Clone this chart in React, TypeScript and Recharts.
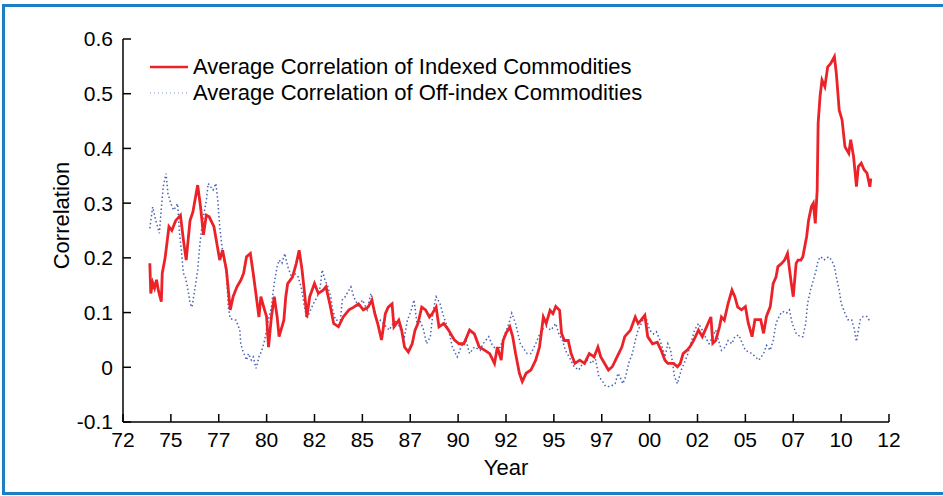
import React from "react"
import { LineChart, Line, XAxis, YAxis } from "recharts"

// Average correlation of indexed commodities (red)
const redYears = [
  1973.4, 1973.45, 1973.55, 1973.65, 1973.75, 1973.85, 1974.0, 1974.05, 1974.2, 1974.4,
  1974.55, 1974.75, 1975.0, 1975.15, 1975.3, 1975.5, 1975.65, 1975.9, 1976.05, 1976.2,
  1976.35, 1976.5, 1976.75, 1977.05, 1977.2, 1977.4, 1977.6, 1977.75, 1977.95, 1978.15,
  1978.3, 1978.45, 1978.65, 1978.8, 1979.1, 1979.2, 1979.35, 1979.5, 1979.6, 1979.75,
  1979.9, 1980.05, 1980.15, 1980.4, 1980.5, 1980.6, 1980.85, 1981.05, 1981.2, 1981.35,
  1981.5, 1981.6, 1981.75, 1982.0, 1982.2, 1982.45, 1982.6, 1982.8, 1983.0, 1983.25,
  1983.5, 1983.8, 1984.05, 1984.3, 1984.55, 1984.8, 1985.0, 1985.15, 1985.3, 1985.5,
  1985.7, 1985.85, 1986.05, 1986.15, 1986.4, 1986.55, 1986.7, 1986.9, 1987.1, 1987.25,
  1987.4, 1987.6, 1987.8, 1988.0, 1988.15, 1988.35, 1988.5, 1988.75, 1989.0, 1989.3,
  1989.55, 1989.8, 1990.1, 1990.35, 1990.6, 1990.9, 1991.15, 1991.4, 1991.55, 1991.75,
  1991.85, 1992.0, 1992.2, 1992.35, 1992.5, 1992.7, 1992.85, 1993.05, 1993.3, 1993.55,
  1993.75, 1993.95, 1994.1, 1994.3, 1994.45, 1994.6, 1994.8, 1994.9, 1995.05, 1995.25,
  1995.4, 1995.6, 1995.85, 1996.1, 1996.35, 1996.6, 1996.8, 1996.95, 1997.15, 1997.35,
  1997.55, 1997.8, 1998.05, 1998.2, 1998.5, 1998.75, 1998.9, 1999.05, 1999.25, 1999.4,
  1999.65, 1999.9, 2000.1, 2000.3, 2000.45, 2000.75, 2000.95, 2001.1, 2001.25, 2001.45,
  2001.6, 2001.8, 2002.05, 2002.25, 2002.4, 2002.55, 2002.7, 2002.8, 2002.95, 2003.15,
  2003.25, 2003.4, 2003.6, 2003.8, 2003.95, 2004.1, 2004.3, 2004.5, 2004.65, 2004.85,
  2005.0, 2005.3, 2005.45, 2005.6, 2005.8, 2005.95, 2006.1, 2006.2, 2006.4, 2006.55,
  2006.7, 2006.9, 2007.0, 2007.15, 2007.25, 2007.4, 2007.5, 2007.7, 2007.8, 2007.95,
  2008.05, 2008.15, 2008.25, 2008.3, 2008.4, 2008.5, 2008.65, 2008.8, 2008.95, 2009.15,
  2009.25, 2009.4, 2009.55, 2009.7, 2009.9, 2010.0, 2010.15, 2010.3, 2010.4, 2010.55,
  2010.7, 2010.85, 2011.0, 2011.05,
]
const redValues = [
  0.19, 0.135, 0.155, 0.145, 0.16, 0.14, 0.12, 0.172, 0.2, 0.257,
  0.25, 0.268, 0.278, 0.234, 0.196, 0.268, 0.284, 0.333, 0.293, 0.242,
  0.278, 0.275, 0.257, 0.196, 0.214, 0.178, 0.105, 0.129, 0.147, 0.159,
  0.172, 0.202, 0.208, 0.172, 0.092, 0.129, 0.11, 0.092, 0.037, 0.092,
  0.129, 0.092, 0.056, 0.086, 0.129, 0.153, 0.165, 0.19, 0.214, 0.178,
  0.129, 0.092, 0.129, 0.153, 0.135, 0.141, 0.147, 0.116, 0.08, 0.074,
  0.092, 0.105, 0.11, 0.116, 0.105, 0.11, 0.123, 0.098, 0.08, 0.05,
  0.098, 0.11, 0.116, 0.074, 0.086, 0.068, 0.037, 0.028, 0.043, 0.068,
  0.08, 0.11, 0.105, 0.092, 0.098, 0.11, 0.074, 0.08, 0.068, 0.05,
  0.043, 0.043, 0.068, 0.061, 0.037, 0.031, 0.025, 0.007, 0.037, 0.013,
  0.049, 0.062, 0.074, 0.056, 0.025, -0.011, -0.026, -0.011, -0.005, 0.013,
  0.037, 0.092, 0.08, 0.104, 0.098, 0.111, 0.104, 0.062, 0.049, 0.049,
  0.025, 0.007, 0.013, 0.007, 0.025, 0.019, 0.037, 0.019, 0.007, -0.005,
  0.001, 0.019, 0.037, 0.056, 0.068, 0.092, 0.08, 0.086, 0.095, 0.056,
  0.043, 0.046, 0.031, 0.013, 0.007, 0.007, 0.001, 0.007, 0.025, 0.031,
  0.037, 0.049, 0.068, 0.056, 0.068, 0.08, 0.092, 0.044, 0.049, 0.074,
  0.092, 0.086, 0.117, 0.141, 0.129, 0.11, 0.105, 0.111, 0.081, 0.056,
  0.087, 0.087, 0.062, 0.093, 0.111, 0.153, 0.165, 0.184, 0.19, 0.196,
  0.208, 0.153, 0.129, 0.19, 0.196, 0.196, 0.202, 0.239, 0.269, 0.294,
  0.3, 0.263, 0.324, 0.446, 0.495, 0.525, 0.513, 0.549, 0.555, 0.568,
  0.537, 0.47, 0.452, 0.403, 0.391, 0.416, 0.385, 0.33, 0.367, 0.373,
  0.361, 0.355, 0.33, 0.345,
]

// Average correlation of off-index commodities (blue, dotted)
const blueYears = [
  1973.4, 1973.55, 1973.7, 1973.9, 1974.0, 1974.1, 1974.25, 1974.35, 1974.5, 1974.65,
  1974.85, 1974.95, 1975.05, 1975.15, 1975.25, 1975.4, 1975.5, 1975.6, 1975.8, 1975.9,
  1976.0, 1976.1, 1976.2, 1976.35, 1976.45, 1976.7, 1976.85, 1976.95, 1977.0, 1977.05,
  1977.15, 1977.25, 1977.4, 1977.45, 1977.5, 1977.6, 1977.9, 1978.1, 1978.15, 1978.25,
  1978.45, 1978.55, 1978.7, 1978.8, 1978.95, 1979.1, 1979.25, 1979.4, 1979.55, 1979.75,
  1979.85, 1979.95, 1980.05, 1980.15, 1980.3, 1980.45, 1980.6, 1980.8, 1980.95, 1981.15,
  1981.3, 1981.45, 1981.6, 1981.8, 1981.95, 1982.15, 1982.3, 1982.4, 1982.55, 1982.7,
  1982.85, 1982.95, 1983.1, 1983.35, 1983.45, 1983.6, 1983.9, 1984.05, 1984.3, 1984.5,
  1984.75, 1984.95, 1985.1, 1985.3, 1985.45, 1985.6, 1985.9, 1986.1, 1986.3, 1986.5,
  1986.7, 1986.85, 1987.05, 1987.2, 1987.35, 1987.5, 1987.7, 1987.85, 1988.05, 1988.2,
  1988.35, 1988.55, 1988.75, 1989.0, 1989.2, 1989.45, 1989.65, 1989.9, 1990.1, 1990.35,
  1990.65, 1990.8, 1991.1, 1991.25, 1991.5, 1991.7, 1991.95, 1992.15, 1992.3, 1992.5,
  1992.75, 1993.1, 1993.3, 1993.55, 1993.85, 1994.1, 1994.35, 1994.6, 1994.75, 1994.95,
  1995.1, 1995.3, 1995.55, 1995.8, 1996.0, 1996.25, 1996.5, 1996.65, 1996.85, 1997.05,
  1997.2, 1997.45, 1997.7, 1997.85, 1997.95, 1998.1, 1998.25, 1998.4, 1998.6, 1998.75,
  1998.9, 1999.15, 1999.3, 1999.5, 1999.7, 1999.85, 2000.05, 2000.3, 2000.45, 2000.6,
  2000.8, 2000.95, 2001.15, 2001.3, 2001.5, 2001.65, 2001.85, 2002.05, 2002.25, 2002.4,
  2002.6, 2002.8, 2002.95, 2003.15, 2003.25, 2003.45, 2003.6, 2003.8, 2003.95, 2004.15,
  2004.35, 2004.5, 2004.85, 2005.2, 2005.45, 2005.6, 2005.8, 2005.95, 2006.1, 2006.3,
  2006.45, 2006.65, 2006.8, 2006.95, 2007.15, 2007.35, 2007.5, 2007.65, 2007.75, 2007.9,
  2008.05, 2008.2, 2008.3, 2008.45, 2008.6, 2008.85, 2009.0, 2009.15, 2009.25, 2009.4,
  2009.5, 2009.7, 2009.85, 2010.05, 2010.2, 2010.3, 2010.4, 2010.5, 2010.65, 2010.85,
  2011.0,
]
const blueValues = [
  0.254, 0.293, 0.27, 0.245, 0.29, 0.33, 0.354, 0.317, 0.299, 0.287,
  0.299, 0.245, 0.214, 0.172, 0.166, 0.141, 0.117, 0.11, 0.153, 0.178,
  0.22, 0.251, 0.275, 0.305, 0.336, 0.324, 0.336, 0.305, 0.28, 0.257,
  0.226, 0.202, 0.172, 0.141, 0.11, 0.089, 0.086, 0.068, 0.043, 0.031,
  0.013, 0.025, 0.013, 0.019, -0.002, 0.019, 0.031, 0.05, 0.08, 0.11,
  0.141, 0.165, 0.184, 0.196, 0.19, 0.208, 0.184, 0.165, 0.172, 0.165,
  0.147, 0.116, 0.089, 0.105, 0.117, 0.129, 0.147, 0.178, 0.159, 0.147,
  0.129, 0.105, 0.086, 0.086, 0.123, 0.129, 0.147, 0.129, 0.11, 0.123,
  0.105, 0.135, 0.11, 0.08, 0.086, 0.08, 0.068, 0.08, 0.086, 0.068,
  0.056, 0.086, 0.104, 0.123, 0.08, 0.086, 0.068, 0.043, 0.056, 0.104,
  0.129, 0.117, 0.092, 0.068, 0.037, 0.019, 0.037, 0.05, 0.025, 0.037,
  0.031, 0.043, 0.056, 0.043, 0.031, 0.037, 0.062, 0.08, 0.099, 0.08,
  0.043, 0.025, 0.025, 0.043, 0.068, 0.074, 0.068, 0.08, 0.062, 0.049,
  0.031, 0.019, 0.001, -0.005, 0.007, 0.013, 0.007, 0.019, -0.017, -0.026,
  -0.035, -0.035, -0.03, -0.011, -0.017, -0.03, -0.017, 0.007, 0.025, 0.049,
  0.068, 0.086, 0.092, 0.068, 0.061, 0.065, 0.049, 0.019, 0.043, 0.031,
  -0.017, -0.03, -0.005, 0.007, 0.025, 0.043, 0.068, 0.08, 0.068, 0.056,
  0.043, 0.056, 0.068, 0.043, 0.031, 0.037, 0.049, 0.043, 0.056, 0.059,
  0.043, 0.031, 0.025, 0.013, 0.025, 0.04, 0.031, 0.049, 0.08, 0.096,
  0.102, 0.099, 0.105, 0.08, 0.062, 0.056, 0.056, 0.08, 0.117, 0.141,
  0.159, 0.178, 0.196, 0.202, 0.196, 0.202, 0.196, 0.184, 0.165, 0.141,
  0.117, 0.099, 0.087, 0.087, 0.068, 0.047, 0.068, 0.087, 0.093, 0.093,
  0.084,
]

const xTicks = [
  1972, 1974.5, 1977, 1979.5, 1982, 1984.5, 1987, 1989.5, 1992, 1994.5, 1997, 1999.5,
  2002, 2004.5, 2007, 2009.5, 2012,
]
const yTicks = [-0.1, 0, 0.1, 0.2, 0.3, 0.4, 0.5, 0.6]

const legendLabels = [
  "Average Correlation of Indexed Commodities",
  "Average Correlation of Off-index Commodities",
]

const redData = redYears.map((year, i) => ({ year, value: redValues[i] }))
const blueData = blueYears.map((year, i) => ({ year, value: blueValues[i] }))

const RED = "#ec2229"
const BLUE = "#4862b4"
const FONT = '"Liberation Sans", Arial, sans-serif'

const yearLabel = (v: number) => String(Math.round(v) % 100).padStart(2, "0")
const corrLabel = (v: number) => String(Math.round(v * 10) / 10)

function YTitle(props: any) {
  const { viewBox } = props
  const cx = 61
  const cy = viewBox.y + viewBox.height / 2 - 15
  return (
    <text
      x={cx}
      y={cy}
      transform={`rotate(-90 ${cx} ${cy})`}
      textAnchor="middle"
      dominantBaseline="central"
      fontSize={22}
      fontFamily={FONT}
      fill="#000"
    >
      Correlation
    </text>
  )
}

export default function App() {
  const tickStyle = { fill: "#000", fontSize: 21, fontFamily: FONT }
  return (
    <div
      style={{
        position: "absolute",
        left: 0,
        top: 0,
        width: 943,
        height: 496,
        overflow: "hidden",
        background: "#fff",
        fontFamily: FONT,
      }}
    >
      <div
        style={{
          position: "absolute",
          left: 2,
          top: 4,
          width: 1000,
          height: 485,
          border: "3px solid #1c7fc3",
        }}
      />
      <div style={{ position: "absolute", left: 0, top: 0 }}>
        <LineChart width={943} height={496} margin={{ top: 39, right: 54, bottom: 0, left: 0 }}>
          <XAxis
            dataKey="year"
            type="number"
            domain={[1972, 2012]}
            ticks={xTicks}
            tickFormatter={yearLabel}
            tickSize={-8}
            tickMargin={18}
            height={74}
            stroke="#000"
            strokeWidth={1.5}
            tick={tickStyle}
            allowDataOverflow
            label={{ value: "Year", position: "insideBottom", offset: 21, fill: "#000", fontSize: 22, fontFamily: FONT }}
          />
          <XAxis
            xAxisId="top"
            orientation="top"
            type="number"
            domain={[1972, 2012]}
            ticks={xTicks}
            tickFormatter={() => ""}
            tickSize={-8}
            height={0}
            stroke="#000"
            strokeWidth={1.5}
            allowDataOverflow
          />
          <YAxis
            type="number"
            domain={[-0.1, 0.6]}
            ticks={yTicks}
            tickFormatter={corrLabel}
            tickSize={-8}
            tickMargin={18}
            width={123}
            stroke="#000"
            strokeWidth={1.5}
            tick={tickStyle}
            allowDataOverflow
            label={<YTitle />}
          />
          <YAxis
            yAxisId="right"
            orientation="right"
            type="number"
            domain={[-0.1, 0.6]}
            ticks={yTicks}
            tickFormatter={() => ""}
            tickSize={-8}
            width={0}
            stroke="#000"
            strokeWidth={1.5}
            allowDataOverflow
          />
          <Line
            data={blueData}
            dataKey="value"
            stroke={BLUE}
            strokeWidth={1.5}
            strokeDasharray="1.5 2.5"
            dot={false}
            isAnimationActive={false}
          />
          <Line
            data={redData}
            dataKey="value"
            stroke={RED}
            strokeWidth={2.8}
            dot={false}
            isAnimationActive={false}
          />
        </LineChart>
      </div>
      <div style={{ position: "absolute", left: 148, top: 54, fontSize: 22, color: "#000", lineHeight: "26px" }}>
        {legendLabels.map((label, i) => (
          <div key={label} style={{ display: "flex", alignItems: "center", whiteSpace: "nowrap" }}>
            <svg width={44} height={10} style={{ marginRight: 1 }}>
              <line
                x1={2}
                y1={5}
                x2={40}
                y2={5}
                stroke={i === 0 ? RED : BLUE}
                strokeWidth={i === 0 ? 2.5 : 1.2}
                strokeDasharray={i === 0 ? undefined : "1 3"}
                opacity={i === 0 ? 1 : 0.7}
              />
            </svg>
            {label}
          </div>
        ))}
      </div>
    </div>
  )
}
